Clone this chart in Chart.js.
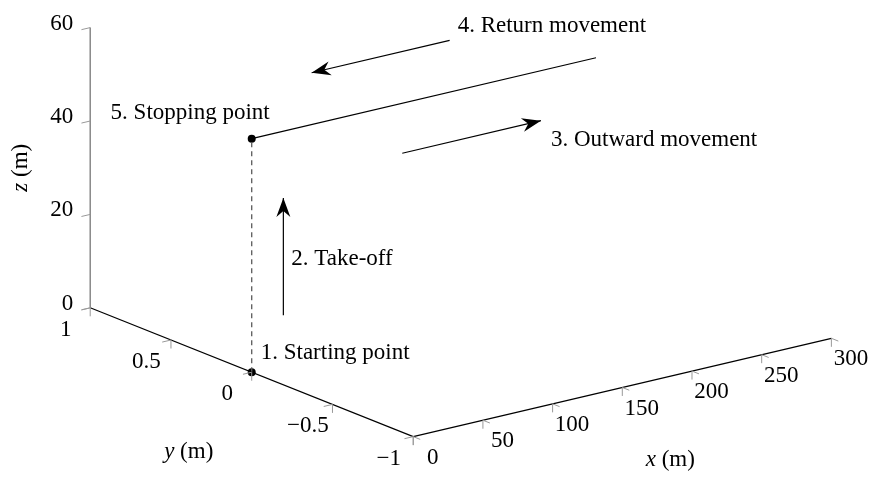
<!DOCTYPE html>
<html>
<head>
<meta charset="utf-8">
<script src="https://cdn.jsdelivr.net/npm/chart.js@4.4.1/dist/chart.umd.min.js"></script>
<style>
  html, body { margin: 0; padding: 0; background: #fff; }
  #wrap { width: 875px; height: 477px; }
</style>
</head>
<body>
<div id="wrap"><canvas id="flightChart" width="875" height="477"></canvas></div>
<script>
// Flight path (metres)
const pathX = [0, 0, 247];
const pathY = [0, 0, 0];
const pathZ = [0, 50, 50];

// Axis ranges and ticks
const xRange = [0, 300];
const yRange = [-1, 1];
const zRange = [0, 60];
const xTicks = [0, 50, 100, 150, 200, 250, 300];
const yTicks = [1, 0.5, 0, -0.5, -1];
const zTicks = [0, 20, 40, 60];
const xTickLabels = ['0', '50', '100', '150', '200', '250', '300'];
const yTickLabels = ['1', '0.5', '0', '\u22120.5', '\u22121'];
const zTickLabels = ['0', '20', '40', '60'];

// Annotations
const pointLabels = ['1. Starting point', '5. Stopping point'];
const arrowLabels = ['2. Take-off', '3. Outward movement', '4. Return movement'];
const arrowFrom = [[22.7, 0, 10.6], [108, 0, 39.3], [142, 0, 61.1]];
const arrowTo = [[22.7, 0, 35.7], [207.5, 0, 39.3], [43, 0, 61.1]];

// 3D view: screen position of (0,0,0) and screen step per metre on each axis
const view = { ox: 250, oy: 374.5, ex: [1.4067, -0.3333], ey: [-163, -65.5], ez: [0, -4.75] };
function project(x, y, z) {
    return {
        x: view.ox + x * view.ex[0] + y * view.ey[0] + z * view.ez[0],
        y: view.oy + x * view.ex[1] + y * view.ey[1] + z * view.ez[1]
    };
}

const FONT = '23px "Liberation Serif", "Times New Roman", serif';
const IFONT = 'italic 23px "Liberation Serif", "Times New Roman", serif';

function line(points, color, width, dash) {
    return {
        data: points,
        showLine: true,
        borderColor: color,
        borderWidth: width,
        borderDash: dash || [],
        pointRadius: 0,
        fill: false
    };
}

const pathPts = pathX.map((x, i) => project(x, pathY[i], pathZ[i]));

const datasets = [
    line([project(0, yRange[1], zRange[0]), project(0, yRange[1], zRange[1])], '#808080', 1.4),
    line([project(0, yRange[1], 0), project(0, yRange[0], 0)], '#000', 1.2),
    line([project(xRange[0], yRange[0], 0), project(xRange[1], yRange[0], 0)], '#000', 1.2),
    line(pathPts.slice(0, 2), '#5a5a5a', 1.3, [5, 4]),
    line(pathPts.slice(1, 3), '#000', 1.2)
];
arrowFrom.forEach((a, i) => {
    datasets.push(line([project(...a), project(...arrowTo[i])], '#000', 1.2));
});
datasets.push({
    data: [pathPts[0], pathPts[1]],
    pointRadius: 4,
    pointBackgroundColor: '#000',
    pointBorderWidth: 0,
    showLine: false
});

// pixel helpers through the chart scales
function px(chart, p) {
    return { x: chart.scales.x.getPixelForValue(p.x), y: chart.scales.y.getPixelForValue(p.y) };
}
function dirOf(chart, p3, d3, len) {
    const a = px(chart, project(...p3));
    const b = px(chart, project(p3[0] + d3[0], p3[1] + d3[1], p3[2] + d3[2]));
    const n = Math.hypot(b.x - a.x, b.y - a.y);
    return { x: (b.x - a.x) / n * len, y: (b.y - a.y) / n * len };
}

const axes3d = {
    id: 'axes3d',
    afterDatasetsDraw(chart) {
        const ctx = chart.ctx;
        ctx.save();

        // tick marks
        ctx.strokeStyle = '#999';
        ctx.lineWidth = 1;
        const tick = (p3, arms) => {
            const a = px(chart, project(...p3));
            arms.forEach(([d, len]) => {
                const v = dirOf(chart, p3, d, len);
                ctx.beginPath();
                ctx.moveTo(a.x, a.y);
                ctx.lineTo(a.x + v.x, a.y + v.y);
                ctx.stroke();
            });
        };
        xTicks.forEach(t => tick([t, yRange[0], 0], [[[0, 0, -1], 8.5], [[0, -1, 0], 7.5]]));
        yTicks.forEach(t => tick([0, t, 0], [[[0, 0, -1], 8.5], [[-1, 0, 0], 9]]));
        zTicks.forEach(t => tick([0, yRange[1], t], [[[-1, 0, 0], 9]]));

        // tick labels
        ctx.fillStyle = '#000';
        ctx.font = FONT;
        ctx.textBaseline = 'middle';
        ctx.textAlign = 'center';
        xTicks.forEach((t, i) => {
            const a = px(chart, project(t, yRange[0], 0));
            ctx.fillText(xTickLabels[i], a.x + 19.5, a.y + 21);
        });
        yTicks.forEach((t, i) => {
            const a = px(chart, project(0, t, 0));
            ctx.fillText(yTickLabels[i], a.x - 24.5, a.y + 22);
        });
        ctx.textAlign = 'right';
        zTicks.forEach((t, i) => {
            const a = px(chart, project(0, yRange[1], t));
            ctx.fillText(zTickLabels[i], a.x - 17, a.y - 4);
        });

        // axis labels: italic variable + " (m)"
        const axisLabel = (v, cx, cy, rot) => {
            ctx.save();
            ctx.translate(cx, cy);
            ctx.rotate(rot);
            ctx.font = IFONT;
            const w1 = ctx.measureText(v).width;
            ctx.font = FONT;
            const w2 = ctx.measureText(' (m)').width;
            ctx.textAlign = 'left';
            ctx.textBaseline = 'middle';
            ctx.font = IFONT;
            ctx.fillText(v, -(w1 + w2) / 2, 0);
            ctx.font = FONT;
            ctx.fillText(' (m)', -(w1 + w2) / 2 + w1, 0);
            ctx.restore();
        };
        const xm = px(chart, project((xRange[0] + xRange[1]) / 2, yRange[0], 0));
        axisLabel('x', xm.x + 48, xm.y + 72, 0);
        const ym = px(chart, project(0, (yRange[0] + yRange[1]) / 2, 0));
        axisLabel('y', ym.x - 63, ym.y + 80, 0);
        const zm = px(chart, project(0, yRange[1], (zRange[0] + zRange[1]) / 2));
        axisLabel('z', zm.x - 69, zm.y, -Math.PI / 2);

        // arrowheads (stealth style)
        ctx.fillStyle = '#000';
        arrowTo.forEach((t3, i) => {
            const tip = px(chart, project(...t3));
            const base = px(chart, project(...arrowFrom[i]));
            const L = Math.hypot(tip.x - base.x, tip.y - base.y);
            const u = { x: (tip.x - base.x) / L, y: (tip.y - base.y) / L };
            const n = { x: -u.y, y: u.x };
            const len = 19, hw = 7, notch = 13;
            ctx.beginPath();
            ctx.moveTo(tip.x, tip.y);
            ctx.lineTo(tip.x - len * u.x + hw * n.x, tip.y - len * u.y + hw * n.y);
            ctx.lineTo(tip.x - notch * u.x, tip.y - notch * u.y);
            ctx.lineTo(tip.x - len * u.x - hw * n.x, tip.y - len * u.y - hw * n.y);
            ctx.closePath();
            ctx.fill();
        });

        // annotation texts
        ctx.font = FONT;
        ctx.textBaseline = 'alphabetic';
        const start = px(chart, pathPts[0]);
        const stop = px(chart, pathPts[1]);
        ctx.textAlign = 'left';
        ctx.fillText(pointLabels[0], start.x + 9, start.y - 13);
        ctx.textAlign = 'right';
        ctx.fillText(pointLabels[1], stop.x + 18, stop.y - 20);

        ctx.textAlign = 'left';
        const a0f = px(chart, project(...arrowFrom[0])), a0t = px(chart, project(...arrowTo[0]));
        ctx.fillText(arrowLabels[0], a0f.x + 8, (a0f.y + a0t.y) / 2 + 8);
        const a1t = px(chart, project(...arrowTo[1]));
        ctx.fillText(arrowLabels[1], a1t.x + 10, a1t.y + 25.7);
        const a2f = px(chart, project(...arrowFrom[2]));
        ctx.fillText(arrowLabels[2], a2f.x + 8, a2f.y - 8.4);

        ctx.restore();
    }
};

new Chart(document.getElementById('flightChart'), {
    type: 'scatter',
    data: { datasets },
    options: {
        responsive: false,
        devicePixelRatio: 1,
        animation: false,
        layout: { padding: 0 },
        plugins: { legend: { display: false }, tooltip: { enabled: false } },
        scales: {
            x: { type: 'linear', min: 0, max: 875, display: false },
            y: { type: 'linear', min: 0, max: 477, reverse: true, display: false }
        }
    },
    plugins: [axes3d]
});
</script>
</body>
</html>
